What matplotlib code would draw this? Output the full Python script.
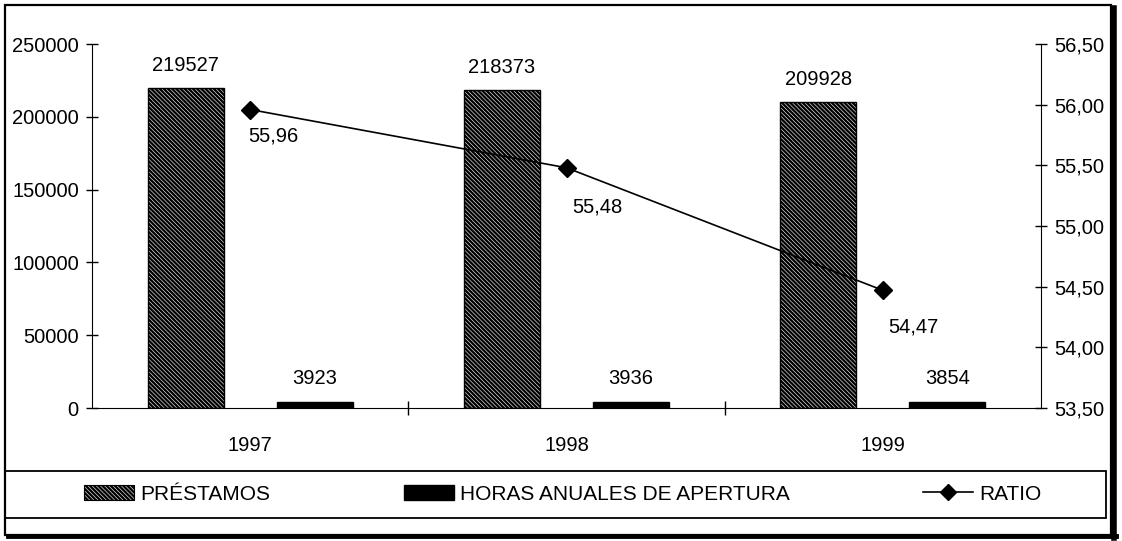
import matplotlib
matplotlib.use('Agg')
import matplotlib.pyplot as plt
import numpy as np
from matplotlib.patches import Rectangle, Patch
from matplotlib.lines import Line2D
from matplotlib.ticker import FuncFormatter

plt.rcParams['font.family'] = ['Liberation Sans', 'DejaVu Sans']
plt.rcParams['hatch.linewidth'] = 1.7

# datos
years = ['1997', '1998', '1999']
prestamos = [219527, 218373, 209928]
horas = [3923, 3936, 3854]
ratio = [55.96, 55.48, 54.47]
ratio_txt = ['55,96', '55,48', '54,47']

W, H = 1122, 541
fig = plt.figure(figsize=(W / 100, H / 100), dpi=100)

HATCH = '\\' * 8

# ejes principales
ax = fig.add_axes([92 / W, 1 - 408 / H, (1041 - 92) / W, (408 - 44) / H])
x = np.arange(len(years))
bw = 0.24
off = 0.204

b1 = ax.bar(x - off, prestamos, bw, color='white', edgecolor='black',
            hatch=HATCH, linewidth=1.0, zorder=2)
b2 = ax.bar(x + off, horas, bw, color='black', edgecolor='black', zorder=2)

for xi, v in zip(x - off, prestamos):
    ax.annotate(str(v), (xi, v), xytext=(0, 23), textcoords='offset pixels',
                ha='center', va='center', fontsize=14.5)
for xi, v in zip(x + off, horas):
    ax.annotate(str(v), (xi, v), xytext=(0, 24), textcoords='offset pixels',
                ha='center', va='center', fontsize=14.5)

ax.set_xlim(-0.5, 2.5)
ax.set_ylim(0, 250000)
ax.set_yticks(np.arange(0, 250001, 50000))
ax.set_xticks([0.5, 1.5])
ax.set_xticklabels([])
ax.set_xticks(x, minor=True)
ax.set_xticklabels(years, minor=True)
ax.tick_params(axis='x', which='major', direction='inout', length=10, width=1)
ax.tick_params(axis='x', which='minor', length=0, pad=20, labelsize=14.5)
ax.tick_params(axis='y', direction='inout', length=9, width=1, pad=5, labelsize=14.5)
ax.spines['top'].set_visible(False)
ax.spines['right'].set_visible(False)

# eje secundario con el ratio
ax2 = ax.twinx()
ax2.plot(x, ratio, color='black', lw=1.2, marker='D', markersize=9, zorder=5)
ax2.set_ylim(53.5, 56.5)
ax2.set_yticks(np.arange(53.5, 56.51, 0.5))
ax2.yaxis.set_major_formatter(FuncFormatter(lambda v, p: f'{v:.2f}'.replace('.', ',')))
ax2.tick_params(axis='y', direction='inout', length=9, width=1, pad=5, labelsize=14.5)
ax2.spines['top'].set_visible(False)
ax2.spines['left'].set_visible(False)
ax2.spines['bottom'].set_visible(False)

lab_off = [(23, -26), (31, -39), (31, -37)]
for i, (xi, v) in enumerate(zip(x, ratio)):
    fam = ['Liberation Sans Narrow', 'Liberation Sans'] if i == 0 else ['Liberation Sans']
    ax2.annotate(ratio_txt[i], (xi, v), xytext=lab_off[i], textcoords='offset pixels',
                 ha='center', va='center', fontsize=14.5, family=fam)

# marco exterior y caja de la leyenda
fig.add_artist(Rectangle((5 / W, 1 - 535 / H), (1111 - 5) / W, (535 - 5) / H,
                         transform=fig.transFigure, fill=False, lw=1.6, ec='black'))
fig.add_artist(Line2D([1114 / W, 1114 / W], [1 - 538 / H, 1 - 8 / H],
                      transform=fig.transFigure, lw=4, color='black'))
fig.add_artist(Line2D([8 / W, 1116 / W], [1 - 536 / H, 1 - 536 / H],
                      transform=fig.transFigure, lw=3.5, color='black'))
fig.add_artist(Rectangle((5 / W, 1 - 518 / H), (1106 - 5) / W, (518 - 471) / H,
                         transform=fig.transFigure, fill=False, lw=1.3, ec='black'))

handles = [Patch(facecolor='white', edgecolor='black', hatch=HATCH, lw=0.8),
           Patch(facecolor='black', edgecolor='black'),
           Line2D([], [], color='black', lw=1.2, marker='D', markersize=8)]
fig.legend(handles, ['PRÉSTAMOS', 'HORAS ANUALES DE APERTURA', 'RATIO'],
           loc='center left', bbox_to_anchor=(74 / W, 1 - 494 / H), ncol=3,
           frameon=False, fontsize=15, borderpad=0, handlelength=2.4,
           handletextpad=0.3, columnspacing=6.4, handleheight=0.7)

fig.savefig('out.png', dpi=100)
